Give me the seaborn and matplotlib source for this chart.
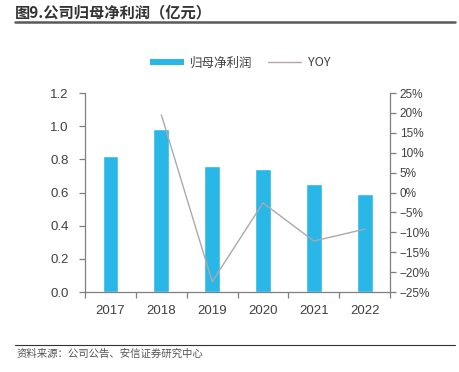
import numpy as np
import pandas as pd
import matplotlib
matplotlib.use("Agg")
import matplotlib.pyplot as plt
import seaborn as sns
from matplotlib.ticker import FuncFormatter, FixedLocator
from matplotlib.patches import Patch
from matplotlib.lines import Line2D

sns.set_theme(style="white")
plt.rcParams['font.family'] = ['Liberation Sans', 'Noto Sans CJK SC', 'DejaVu Sans']

# data
years = ['2017', '2018', '2019', '2020', '2021', '2022']
profit = [0.82, 0.98, 0.76, 0.74, 0.65, 0.59]          # 亿元
yoy = [np.nan, 19.5, -22.4, -2.6, -12.2, -9.2]         # %

bar_color = '#29B7E8'
line_color = '#B0A8A8'
axis_color = '#7F7F7F'
text_color = '#404040'

df = pd.DataFrame({'year': years, 'profit': profit, 'yoy': yoy})
df['pos'] = np.arange(len(years))

fig = plt.figure(figsize=(4.6, 3.72), dpi=100)
ax = fig.add_axes([0.185, 0.215, 0.663, 0.535])

sns.barplot(data=df, x='year', y='profit', color=bar_color, width=0.31,
            saturation=1, ax=ax)
ax.set_ylim(0, 1.2)
ax.set_yticks(np.arange(0, 1.21, 0.2))
ax.yaxis.set_major_formatter(FuncFormatter(lambda v, p: f'{v:.1f}'))
ax.set_xlim(-0.5, len(years) - 0.5)
ax.set_xlabel('')
ax.set_ylabel('')

ax2 = ax.twinx()
sns.lineplot(data=df, x='pos', y='yoy', color=line_color, linewidth=1.0, ax=ax2)
ax2.set_ylim(-25, 25)
ax2.set_yticks(np.arange(-25, 26, 5))
ax2.yaxis.set_major_formatter(FuncFormatter(lambda v, p: f'{v:.0f}%'.replace('-', '\u2212')))
ax2.set_xlim(-0.5, len(years) - 0.5)
ax2.set_xlabel('')
ax2.set_ylabel('')

for a in (ax, ax2):
    for s in a.spines.values():
        s.set_color(axis_color)
        s.set_linewidth(0.9)
    a.spines['top'].set_visible(False)
    a.grid(False)

ax.spines['right'].set_visible(False)
ax2.spines['left'].set_visible(False)
ax2.spines['bottom'].set_visible(False)

# category boundary ticks on the x axis
ax.xaxis.set_minor_locator(FixedLocator(np.arange(-0.5, len(years), 1)))
ax.tick_params(axis='x', which='major', length=0, pad=9, labelsize=9.5, labelcolor=text_color)
ax.tick_params(axis='x', which='minor', length=4, color=axis_color, width=0.9, bottom=True)
ax.tick_params(axis='y', length=4, color=axis_color, width=0.9, left=True,
               labelsize=9.5, labelcolor=text_color, pad=8)
ax2.tick_params(axis='y', length=4, color=axis_color, width=0.9, right=True,
                labelsize=8.5, labelcolor=text_color, pad=3)

# legend
handles = [Patch(facecolor=bar_color, edgecolor='none'),
           Line2D([0], [0], color=line_color, linewidth=1.0)]
fig.legend(handles, ['归母净利润', 'YOY'], loc='center', bbox_to_anchor=(0.522, 0.831),
           ncol=2, frameon=False, handlelength=2.7, handleheight=0.45,
           handletextpad=0.5, columnspacing=1.2, labelcolor=text_color,
           prop={'family': ['Noto Sans CJK SC'], 'size': 9})

# title and footer
fig.text(0.033, 0.966, '图9.公司归母净利润（亿元）', fontsize=11, fontweight='bold',
         color='#333333', family=['Noto Sans CJK SC'], va='center', ha='left')
fig.add_artist(Line2D([0.033, 0.99], [0.94, 0.94], color='#595959', linewidth=1.8,
                      transform=fig.transFigure))
fig.add_artist(Line2D([0.033, 0.99], [0.072, 0.072], color='#333333', linewidth=0.8,
                      transform=fig.transFigure))
fig.text(0.035, 0.05, '资料来源：公司公告、安信证券研究中心', fontsize=7.5, color='#555555',
         family=['Noto Sans CJK SC'], va='center', ha='left', style='italic')

fig.savefig('out.png', dpi=100)
